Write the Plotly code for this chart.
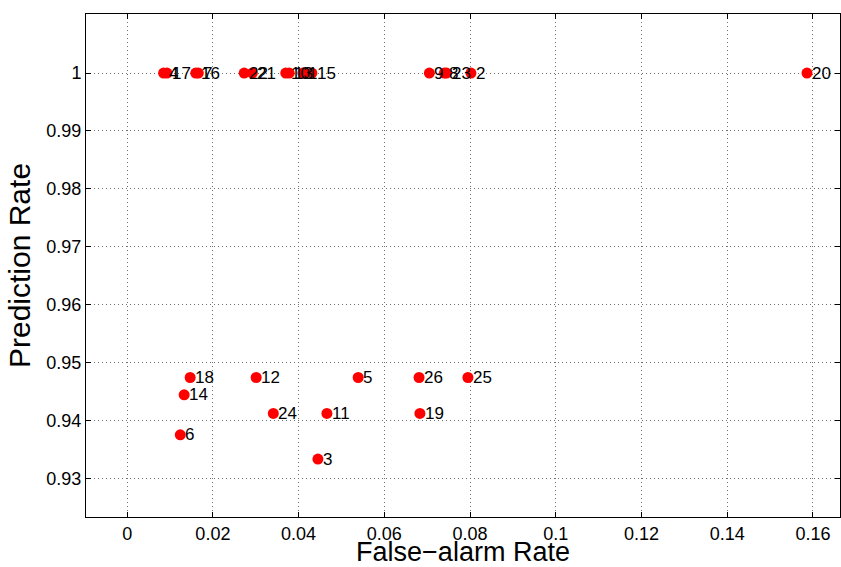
import plotly.graph_objects as go

labels = ["1", "2", "3", "4", "5", "6", "7", "8", "9", "10", "11", "12", "13",
          "14", "15", "16", "17", "18", "19", "20", "21", "22", "23", "24", "25", "26"]
false_alarm = [0.0410, 0.0802, 0.0445, 0.0085, 0.0539, 0.0124, 0.0166, 0.0740, 0.0705,
               0.0370, 0.0466, 0.0301, 0.0378, 0.0133, 0.0431, 0.0160, 0.0093, 0.0147,
               0.0683, 0.1586, 0.0292, 0.0273, 0.0745, 0.0341, 0.0795, 0.0681]
prediction = [1.0, 1.0, 0.9333, 1.0, 0.9474, 0.9375, 1.0, 1.0, 1.0,
              1.0, 0.9412, 0.9474, 1.0, 0.9444, 1.0, 1.0, 1.0, 0.9474,
              0.9412, 1.0, 1.0, 1.0, 1.0, 0.9412, 0.9474, 0.9474]

x_ticks = [0, 0.02, 0.04, 0.06, 0.08, 0.1, 0.12, 0.14, 0.16]
x_tick_text = ["0", "0.02", "0.04", "0.06", "0.08", "0.1", "0.12", "0.14", "0.16"]
y_ticks = [0.93, 0.94, 0.95, 0.96, 0.97, 0.98, 0.99, 1.0]
y_tick_text = ["0.93", "0.94", "0.95", "0.96", "0.97", "0.98", "0.99", "1"]

font_family = "Liberation Sans, Arial, sans-serif"

fig = go.Figure()
fig.add_trace(go.Scatter(
    x=false_alarm, y=prediction, mode="markers",
    marker=dict(color="#ff0000", size=11, line=dict(width=0)),
    cliponaxis=False, showlegend=False, hoverinfo="skip",
))

for lab, xv, yv in zip(labels, false_alarm, prediction):
    fig.add_annotation(
        x=xv, y=yv, xref="x", yref="y", text=lab, showarrow=False,
        xanchor="left", yanchor="middle", xshift=3,
        font=dict(family=font_family, size=17, color="black"),
    )

axis_common = dict(
    showline=True, linecolor="black", linewidth=1, mirror="allticks",
    ticks="inside", ticklen=5, tickcolor="black",
    showgrid=True, gridcolor="#707070", griddash="1px,3px", gridwidth=1,
    zeroline=False,
    tickfont=dict(family=font_family, size=18, color="black"),
)

fig.update_xaxes(
    range=[-0.0096, 0.1663], tickvals=x_ticks, ticktext=x_tick_text,
    title=dict(text="False\u2212alarm Rate", font=dict(family=font_family, size=27, color="black"), standoff=0),
    **axis_common,
)
fig.update_yaxes(
    range=[0.9233, 1.0102], tickvals=y_ticks, ticktext=y_tick_text,
    title=dict(text="Prediction Rate", font=dict(family=font_family, size=30, color="black"), standoff=6),
    **axis_common,
)

fig.update_layout(
    width=841, height=567,
    margin=dict(l=86, r=1, t=14, b=50, autoexpand=False),
    paper_bgcolor="white", plot_bgcolor="white",
    font=dict(family=font_family),
)

fig.write_html("out.html", config={"displayModeBar": False},
               post_script="document.body.style.margin='0';document.body.style.overflow='hidden';")
